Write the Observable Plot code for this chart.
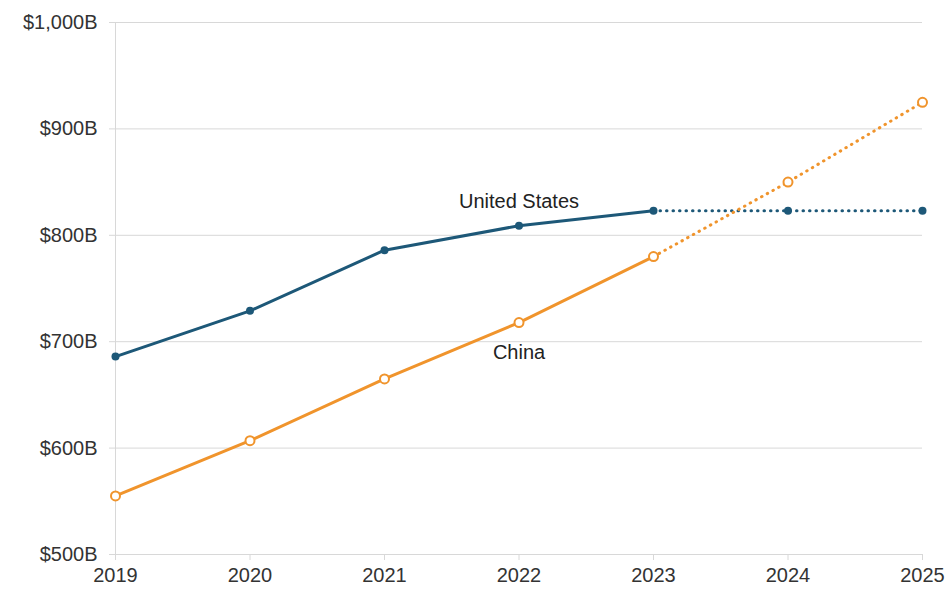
<!DOCTYPE html>
<html><head><meta charset="utf-8">
<script src="https://cdn.jsdelivr.net/npm/d3@7"></script>
<script src="https://cdn.jsdelivr.net/npm/@observablehq/plot@0.6"></script>
<style>body{margin:0;background:#fff;} svg{font-family:"Liberation Sans",Arial,sans-serif;}</style>
</head><body><div id="chart"></div>
<script>
const years = [2019, 2020, 2021, 2022, 2023, 2024, 2025];
const usValues = [686, 729, 786, 809, 823, 823, 823];
const chinaValues = [555, 607, 665, 718, 780, 850, 925];
const yTicks = [500, 600, 700, 800, 900, 1000];
const lastActual = 2023;
const seriesLabels = [
  {name: "United States", year: 2022, value: 832},
  {name: "China", year: 2022, value: 690}
];
const usColor = "#1d5878";
const chinaColor = "#f0942c";

const us = years.map((y, i) => ({year: y, value: usValues[i]}));
const cn = years.map((y, i) => ({year: y, value: chinaValues[i]}));
const actual = d => d.year <= lastActual;
const proj = d => d.year >= lastActual;
const fmtY = d => "$" + d3.format(",")(d) + "B";

const chart = Plot.plot({
  width: 952, height: 613,
  marginLeft: 115, marginRight: 30, marginTop: 22, marginBottom: 59,
  style: {fontSize: "20px", fontFamily: "Liberation Sans, Arial, sans-serif", color: "#333"},
  x: {domain: [2019, 2025], label: null},
  y: {domain: [500, 1000], label: null},
  marks: [
    Plot.gridY(yTicks, {stroke: "#d8d8d8", strokeOpacity: 1}),
    Plot.ruleX([2019], {stroke: "#d8d8d8"}),
    Plot.axisX({ticks: years, tickFormat: d => String(d), stroke: "#d8d8d8", color: "#333", label: null, tickSize: 6, tickPadding: 7, fontSize: 20}),
    Plot.axisY({ticks: yTicks, tickFormat: fmtY, stroke: "#d8d8d8", color: "#333", label: null, tickSize: 6, tickPadding: 12, fontSize: 20}),
    Plot.line(us.filter(actual), {x: "year", y: "value", stroke: usColor, strokeWidth: 3}),
    Plot.line(us.filter(proj), {x: "year", y: "value", stroke: usColor, strokeWidth: 3, strokeDasharray: "0.5,6", strokeLinecap: "round"}),
    Plot.line(cn.filter(actual), {x: "year", y: "value", stroke: chinaColor, strokeWidth: 3}),
    Plot.line(cn.filter(proj), {x: "year", y: "value", stroke: chinaColor, strokeWidth: 3, strokeDasharray: "0.5,6", strokeLinecap: "round"}),
    Plot.dot(us, {x: "year", y: "value", fill: usColor, r: 4}),
    Plot.dot(cn, {x: "year", y: "value", fill: "white", stroke: chinaColor, strokeWidth: 2, r: 4.5}),
    Plot.text(seriesLabels, {x: "year", y: "value", text: "name", fontSize: 20, fill: "#222"})
  ]
});
document.getElementById("chart").appendChild(chart);
</script></body></html>
